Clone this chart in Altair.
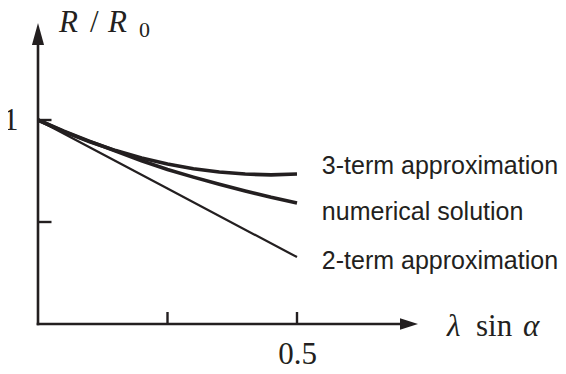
import altair as alt
import pandas as pd

# ---- data ----
x_vals = [0, 0.05, 0.1, 0.15, 0.2, 0.25, 0.3, 0.35, 0.4, 0.45, 0.5]
three_term = [1.0, 0.943, 0.893, 0.850, 0.814, 0.784, 0.761, 0.745, 0.735, 0.731, 0.735]
numerical = [1.0, 0.945, 0.895, 0.848, 0.800, 0.757, 0.720, 0.685, 0.652, 0.621, 0.593]
two_term_x = [0, 0.25, 0.5]
two_term = [1.0, 0.664, 0.328]

series_labels = ["3-term approximation", "numerical solution", "2-term approximation"]
label_x = [0.548, 0.548, 0.548]
label_y = [0.737, 0.508, 0.268]

x_ticks = [0.25, 0.5]
y_ticks = [0.5, 1.0]
x_tick_labels = [0.5]
y_tick_labels = [1.0]
x_axis_end = 0.7336
y_axis_end = 1.4755

C = "#231f20"
SERIF = "Liberation Serif"
SANS = "Liberation Sans"

xs = alt.Scale(domain=[0, 1], nice=False, zero=False)
ys = alt.Scale(domain=[0, 1.5], nice=False, zero=False)
xaxis = alt.Axis(values=x_tick_labels, domain=False, ticks=False, tickSize=0, grid=False,
                 labelFont=SERIF, labelFontSize=31, labelColor=C, labelPadding=15,
                 labelBaseline="top", labelFlush=False, title=None, format=".1f")
yaxis = alt.Axis(values=y_tick_labels, domain=False, ticks=False, tickSize=0, grid=False,
                 labelFont=SERIF, labelFontSize=31, labelColor=C, labelPadding=20,
                 labelBaseline="middle", labelFlush=False, title=None, format=".0f")


def X(f):
    return alt.X(f, type="quantitative", scale=xs, axis=xaxis)


def Y(f):
    return alt.Y(f, type="quantitative", scale=ys, axis=yaxis)


# curves
df3 = pd.DataFrame({"x": x_vals, "y": three_term})
dfn = pd.DataFrame({"x": x_vals, "y": numerical})
df2 = pd.DataFrame({"x": two_term_x, "y": two_term})

l3 = alt.Chart(df3).mark_line(color=C, strokeWidth=3.6).encode(x=X("x"), y=Y("y"))
ln = alt.Chart(dfn).mark_line(color=C, strokeWidth=3.6).encode(x=X("x"), y=Y("y"))
l2 = alt.Chart(df2).mark_line(color=C, strokeWidth=2.2).encode(x=X("x"), y=Y("y"))

# axes lines
xa = alt.Chart(pd.DataFrame({"x": [0], "x2": [x_axis_end - 0.02], "y": [0]})).mark_rule(
    color=C, strokeWidth=2.6, strokeCap="square").encode(x=X("x"), x2="x2", y=Y("y"))
ya = alt.Chart(pd.DataFrame({"x": [0], "y": [0], "y2": [y_axis_end - 0.05]})).mark_rule(
    color=C, strokeWidth=2.6, strokeCap="square").encode(x=X("x"), y=Y("y"), y2="y2")

# arrow heads
xarrow = alt.Chart(pd.DataFrame({"x": [x_axis_end], "y": [0]})).mark_point(
    shape="M0,0L-2,-0.65L-2,0.65Z", size=324, filled=True, opacity=1, color=C, strokeWidth=0
).encode(x=X("x"), y=Y("y"))
yarrow = alt.Chart(pd.DataFrame({"x": [0], "y": [y_axis_end]})).mark_point(
    shape="M0,0L-0.55,2L0.55,2Z", size=484, filled=True, opacity=1, color=C, strokeWidth=0
).encode(x=X("x"), y=Y("y"))

# inward ticks
xt = alt.Chart(pd.DataFrame({"x": x_ticks, "y": [0] * len(x_ticks)})).mark_tick(
    orient="vertical", size=12, thickness=2.4, yOffset=-6, color=C, opacity=1
).encode(x=X("x"), y=Y("y"))
yt = alt.Chart(pd.DataFrame({"x": [0] * len(y_ticks), "y": y_ticks})).mark_tick(
    orient="horizontal", size=13, thickness=2.4, xOffset=7, color=C, opacity=1
).encode(x=X("x"), y=Y("y"))

# curve labels
lab = alt.Chart(pd.DataFrame({"x": label_x, "y": label_y, "t": series_labels})).mark_text(
    font=SANS, fontSize=25, color=C, align="left", baseline="alphabetic"
).encode(x=X("x"), y=Y("y"), text="t")


# math axis titles (pixel placement inside the plot frame)
def mtext(s, px, py, size, style):
    return alt.Chart(pd.DataFrame({"t": [s]})).mark_text(
        font=SERIF, fontSize=size, fontStyle=style, color=C, align="left", baseline="alphabetic"
    ).encode(text="t", x=alt.value(px), y=alt.value(py))


titles = [
    mtext("R", 21, 14, 31, "italic"),
    mtext("/", 52, 14, 31, "normal"),
    mtext("R", 70, 14, 31, "italic"),
    mtext("0", 101, 19, 22, "normal"),
    mtext("λ", 409, 318, 31, "italic"),
    mtext("sin", 438, 318, 31, "normal"),
    mtext("α", 485, 318, 31, "italic"),
]

chart = alt.layer(xa, ya, xarrow, yarrow, xt, yt, l2, ln, l3, lab, *titles).properties(
    width=518, height=306,
    autosize=alt.AutoSizeParams(type="none"),
    padding={"left": 30, "top": 10, "right": 2, "bottom": 42},
).configure_view(stroke=None)

chart.save("out.html", embed_options={"renderer": "svg", "actions": False})
